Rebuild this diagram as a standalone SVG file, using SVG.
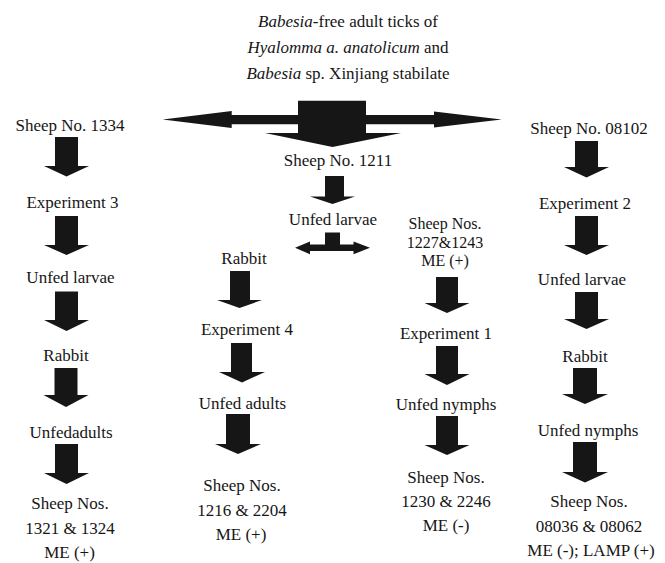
<svg xmlns="http://www.w3.org/2000/svg" width="665" height="563" viewBox="0 0 665 563">
<style>
text{font-family:"Liberation Serif","Times New Roman",serif;font-size:17px;fill:#161616;text-anchor:middle}
.i{font-style:italic}
.t{font-size:16px}
.arr{fill:#161616;stroke:none}
</style>
<rect width="665" height="563" fill="#fff"/>
<g id="connectors">
<path class="arr" d="M162.7,119.5 L231.7,111 V115 H434 V111.5 L501.7,119.5 L434,127.5 V124.3 H231.7 V128 Z"/>
<path class="arr" d="M298,100.7 H366 V133 H401 L332.5,147 L265,133 H298 Z"/>
<path class="arr" d="M55,137 H78 V166 H89 L66.5,176.5 L44,166 H55 Z"/>
<path class="arr" d="M55,216 H78 V245 H89 L66.5,255 L44,245 H55 Z"/>
<path class="arr" d="M55,291.5 H78 V320 H89 L66.5,331 L44,320 H55 Z"/>
<path class="arr" d="M54.5,368 H77.5 V395 H88.5 L66,407 L43.5,395 H54.5 Z"/>
<path class="arr" d="M55,444 H78 V473 H89 L66.5,484 L44,473 H55 Z"/>
<path class="arr" d="M325,176 H344 V196.5 H355 L332.5,204 L310,196.5 H325 Z"/>
<path class="arr" d="M325,232.5 H340 V244.5 H353.5 V241.5 L370,247.7 L353.5,254.3 V251 H310 V254.3 L295,247.7 L310,241.5 V244.5 H325 Z"/>
<path class="arr" d="M230,271 H250 V300 H262 L239.5,308 L217,300 H230 Z"/>
<path class="arr" d="M231,343 H252 V372 H265 L242,382.5 L219,372 H231 Z"/>
<path class="arr" d="M226,414 H250 V444 H261 L238,454 L215,444 H226 Z"/>
<path class="arr" d="M436,277 H458 V303 H469.5 L447,313 L424.5,303 H436 Z"/>
<path class="arr" d="M436,346 H458 V374 H469.5 L447,385 L424.5,374 H436 Z"/>
<path class="arr" d="M436,416 H458 V445 H469.5 L447,455 L424.5,445 H436 Z"/>
<path class="arr" d="M575,141 H598 V167 H609 L586.5,177.5 L564,167 H575 Z"/>
<path class="arr" d="M575,216 H598 V245 H609 L586.5,255 L564,245 H575 Z"/>
<path class="arr" d="M575,292 H598 V319 H609 L586.5,329 L564,319 H575 Z"/>
<path class="arr" d="M573,368 H597 V394 H608 L585,404 L562,394 H573 Z"/>
<path class="arr" d="M573,442 H597 V472 H608 L585,482.5 L562,472 H573 Z"/>
</g>
<g id="source">
<text x="348" y="27"><tspan class="i">Babesia</tspan>-free adult ticks of</text>
<text x="348" y="53"><tspan class="i">Hyalomma a. anatolicum</tspan> and</text>
<text x="348" y="79"><tspan class="i">Babesia</tspan> sp. Xinjiang stabilate</text>
</g>
<g id="sheep1334"><text x="70" y="131">Sheep No. 1334</text></g>
<g id="exp3"><text x="72.5" y="208">Experiment 3</text></g>
<g id="larvae-left"><text x="70.5" y="283">Unfed larvae</text></g>
<g id="rabbit-left"><text x="66" y="361">Rabbit</text></g>
<g id="adults-left"><text x="71" y="438">Unfedadults</text></g>
<g id="sheep1321"><text x="70" y="509">Sheep Nos.</text><text x="70" y="534">1321 &amp; 1324</text><text x="69.5" y="558">ME (+)</text></g>
<g id="sheep1211"><text x="338" y="166">Sheep No. 1211</text></g>
<g id="larvae-mid"><text x="333" y="225">Unfed larvae</text></g>
<g id="rabbit-mid"><text x="244" y="264">Rabbit</text></g>
<g id="exp4"><text x="247" y="335">Experiment 4</text></g>
<g id="adults-mid"><text x="242.5" y="409">Unfed adults</text></g>
<g id="sheep1216"><text x="242" y="491">Sheep Nos.</text><text x="242" y="516">1216 &amp; 2204</text><text x="241" y="540">ME (+)</text></g>
<g id="sheep1227"><text class="t" x="445" y="229">Sheep Nos.</text><text class="t" x="445" y="247.5">1227&amp;1243</text><text class="t" x="445" y="266">ME (+)</text></g>
<g id="exp1"><text x="446" y="339">Experiment 1</text></g>
<g id="nymphs-mid"><text x="446" y="410">Unfed nymphs</text></g>
<g id="sheep1230"><text x="446" y="483">Sheep Nos.</text><text x="446" y="507">1230 &amp; 2246</text><text x="446" y="531">ME (-)</text></g>
<g id="sheep08102"><text x="589" y="134">Sheep No. 08102</text></g>
<g id="exp2"><text x="585" y="209">Experiment 2</text></g>
<g id="larvae-right"><text x="582" y="285">Unfed larvae</text></g>
<g id="rabbit-right"><text x="585" y="362">Rabbit</text></g>
<g id="nymphs-right"><text x="588" y="436">Unfed nymphs</text></g>
<g id="sheep08036"><text x="589" y="507">Sheep Nos.</text><text x="589" y="532">08036 &amp; 08062</text><text x="591" y="556">ME (-); LAMP (+)</text></g>
</svg>
